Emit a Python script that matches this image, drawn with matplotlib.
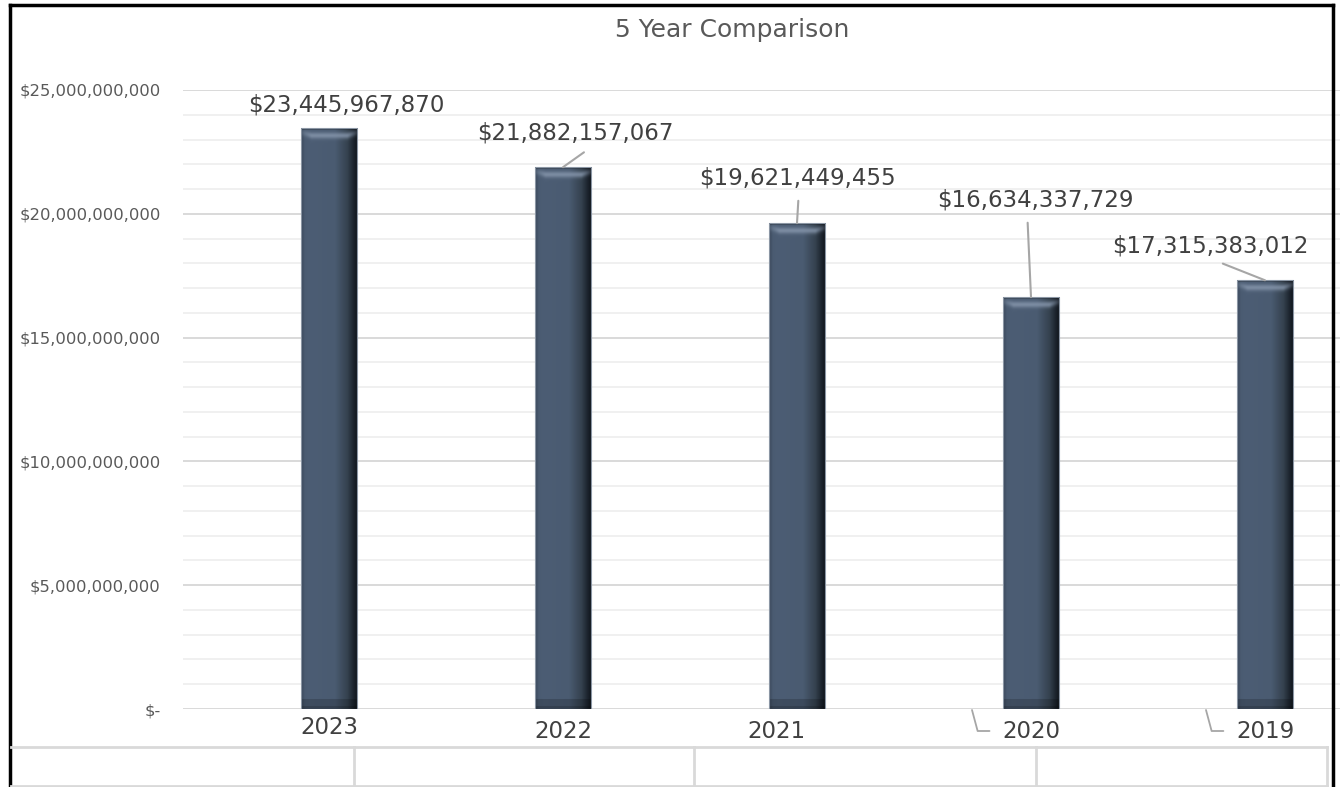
import numpy as np
import matplotlib.pyplot as plt
from matplotlib.lines import Line2D
from matplotlib.colors import to_rgb
import matplotlib.transforms as mtransforms

years = ["2023", "2022", "2021", "2020", "2019"]
totals = [23445967870, 21882157067, 19621449455, 16634337729, 17315383012]
y_ticks = [0, 5e9, 10e9, 15e9, 20e9, 25e9]

# label placement (pixels from bar top) and leader start on label box
lab_off = [(17, 23), (12, 34), (0, 45), (4, 97), (-55, 34)]
lab_rel = [None, (0.6, 0), (0.51, 0), (0.46, 0), (0.49, 0)]
cat_off = [(0, -18), (0, -22), (-21, -22), (0, -22), (0, -22)]

W, H = 1340, 787
fig = plt.figure(figsize=(W / 100, H / 100), dpi=100)
ax = fig.add_axes([183 / W, 78 / H, (W - 183) / W, 619 / H])

x = np.arange(len(years))
bars = ax.bar(x, totals, width=0.24, color="#4b5c72", edgecolor="#8b96a4", lw=0.8, zorder=3)

ax.set_xlim((183 - 329) / 234, (W - 329) / 234)
ax.set_ylim(0, 25e9)
fig.canvas.draw()


def hexarr(c):
    return np.array(to_rgb(c))


# bevelled bar look: gradient image clipped to each bar
prof_pos = [0.0, 0.06, 0.15, 0.6, 0.82, 0.93, 1.0]
prof_col = [hexarr(c) for c in ["#3a485b", "#4a5b71", "#4c5d74", "#4a5b71", "#35424f", "#1c242e", "#0f141a"]]
ncol = 60
u = np.linspace(0, 1, ncol)
cols = np.zeros((ncol, 3))
for k in range(3):
    cols[:, k] = np.interp(u, prof_pos, [c[k] for c in prof_col])
colmask = np.clip(np.minimum(u, 1 - u) / 0.18, 0, 1)

for b in bars:
    x0, w, h = b.get_x(), b.get_width(), b.get_height()
    p0 = ax.transData.transform((0, 0))[1]
    p1 = ax.transData.transform((0, h))[1]
    npx = max(int(p1 - p0), 20)
    img = np.repeat(cols[None, :, :], npx, axis=0)
    rows = np.arange(npx)[:, None]
    # top bevel: dark rim then arched highlight
    hl = np.exp(-((rows - 7 + 3 * (1 - colmask[None, :])) / 3.2) ** 2) * (0.25 + 0.75 * colmask[None, :])
    img = img + (hexarr("#8a9ab0") - img) * (0.75 * hl)[:, :, None]
    img[:2] = img[:2] * 0.8
    # bottom bevel
    img[npx - 10:] = img[npx - 10:] * 0.82
    img[npx - 3:] = img[npx - 3:] * 0.85
    img = np.clip(img, 0, 1)
    im = ax.imshow(img, extent=(x0, x0 + w, 0, h), aspect="auto", origin="upper",
                   zorder=3, interpolation="bilinear")
    im.set_clip_path(b)
    b.set_facecolor("none")
    b.set_zorder(4)

ax.set_yticks(y_ticks)
ax.set_yticks(np.arange(0, 25e9 + 1, 1e9), minor=True)
ax.set_yticklabels(["$-" if v == 0 else "${:,.0f}".format(v) for v in y_ticks],
                   fontsize=11.8, color="#595959")
ax.tick_params(axis="y", which="both", length=0, pad=16)
ax.tick_params(axis="x", length=0, labelbottom=False)
ax.grid(axis="y", which="major", color="#d9d9d9", lw=1.4, zorder=0)
ax.grid(axis="y", which="minor", color="#eeeeee", lw=1.2, zorder=0)
ax.set_axisbelow(True)
for s in ax.spines.values():
    s.set_visible(False)

# value labels
for i, v in enumerate(totals):
    dx, dy = lab_off[i]
    if lab_rel[i] is None:
        ax.annotate("${:,.0f}".format(v), xy=(i, v), xytext=(dx, dy), textcoords="offset pixels",
                    ha="center", va="center", fontsize=16.5, color="#404040", zorder=5)
    else:
        ax.annotate("${:,.0f}".format(v), xy=(i, v), xytext=(dx, dy), textcoords="offset pixels",
                    ha="center", va="center", fontsize=16.5, color="#404040", zorder=5,
                    arrowprops=dict(arrowstyle="-", color="#a6a6a6", lw=1.5,
                                    relpos=lab_rel[i], shrinkA=6, shrinkB=0))

# category labels
for i, yr in enumerate(years):
    dx, dy = cat_off[i]
    if i < 3:
        ax.annotate(yr, xy=(i, 0), xytext=(dx, dy), textcoords="offset pixels",
                    ha="center", va="center", fontsize=16.5, color="#404040",
                    annotation_clip=False)
    else:
        tr = mtransforms.offset_copy(ax.transData, fig=fig, x=-59, y=-1, units="dots")
        ax.annotate(yr, xy=(i, 0), xycoords=tr, xytext=(dx + 59, dy + 1), textcoords="offset pixels",
                    ha="center", va="center", fontsize=16.5, color="#404040",
                    annotation_clip=False,
                    arrowprops=dict(arrowstyle="-", color="#a6a6a6", lw=1.3,
                                    relpos=(0, 0.5), shrinkA=7, shrinkB=0,
                                    connectionstyle="angle,angleA=0,angleB=105,rad=0"))

fig.text(732 / W, 1 - 30 / H, "5 Year Comparison", ha="center", va="center",
         fontsize=18, color="#595959")

# outer frame
fig.add_artist(Line2D([9.5 / W, 9.5 / W], [0, 1 - 5 / H], color="black", lw=2.5))
fig.add_artist(Line2D([9.5 / W, 1333 / W], [1 - 5 / H, 1 - 5 / H], color="black", lw=2.5))
fig.add_artist(Line2D([1333 / W, 1333 / W], [0, 1 - 5 / H], color="black", lw=2.5))

# empty table below the chart
fig.add_artist(Line2D([11 / W, 1327 / W], [1 - 747 / H, 1 - 747 / H], color="#d9d9d9", lw=2))
fig.add_artist(Line2D([11 / W, 1327 / W], [1 / H, 1 / H], color="#d9d9d9", lw=2))
for xp in [354, 694, 1036, 1327]:
    fig.add_artist(Line2D([xp / W, xp / W], [0, 1 - 747 / H], color="#d9d9d9", lw=2))

fig.savefig("out.png", dpi=100)
